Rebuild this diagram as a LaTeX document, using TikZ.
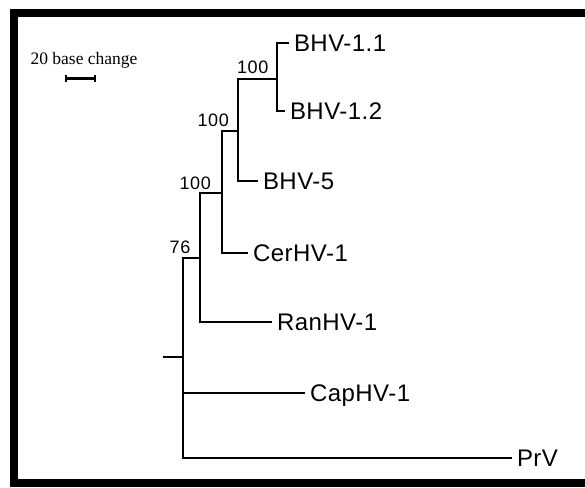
\documentclass[tikz,border=0pt]{standalone}
\usepackage{fontspec}
\setmainfont{Liberation Serif}
\newfontfamily\labfont[LetterSpace=2]{Liberation Sans}
\newfontfamily\numfont[LetterSpace=3]{Liberation Sans}
\begin{document}
\begin{tikzpicture}[x=1pt,y=-1pt,
  branch/.style={line width=1.5pt,black},
  leaf/.style={anchor=west,inner sep=0pt,outer xsep=5pt,text height=17pt,text depth=0pt,
    font=\labfont\fontsize{24}{24}\selectfont},
  support/.style={anchor=base east,inner sep=0pt,font=\numfont\fontsize{18}{18}\selectfont}]
\useasboundingbox (0,0) rectangle (585,487);
\fill[white] (0,0) rectangle (585,487);
% frame (left, top and bottom bands)
\fill[black] (10,9.5) rectangle (585,17);
\fill[black] (10,9.5) rectangle (17.5,487);
\fill[black] (10,479) rectangle (585,487);
% scale bar
\node[anchor=base,inner sep=0pt,font=\fontsize{17.5}{17.5}\selectfont] (scaletext) at (84,64) {20 base change};
\coordinate (sbL) at (66,78);
\coordinate (sbR) at (95,78);
\draw[line width=3pt] (sbL) -- (sbR);
\draw[line width=1.5pt] ([yshift=-3.5pt]sbL) -- ([yshift=3.5pt]sbL);
\draw[line width=1.5pt] ([yshift=-3.5pt]sbR) -- ([yshift=3.5pt]sbR);
% internal nodes
\coordinate (n1) at (277,79);
\coordinate (n2) at (238,131);
\coordinate (n3) at (222,193);
\coordinate (n4) at (200,258);
\coordinate (root) at (183,357);
\coordinate (stub) at (163,357);
% leaves
\node[leaf] (b11) at (289,43) {BHV-1.1};
\node[leaf] (b12) at (285,111) {BHV-1.2};
\node[leaf] (b5) at (258,181) {BHV-5};
\node[leaf] (cer) at (248,253) {CerHV-1};
\node[leaf] (ran) at (272,322) {RanHV-1};
\node[leaf] (cap) at (305,393) {CapHV-1};
\node[leaf] (prv) at (512,458) {PrV};
% branches
\draw[branch] (n1) |- (b11.west);
\draw[branch] (n1) |- (b12.west);
\draw[branch] (n2) |- (n1);
\draw[branch] (n2) |- (b5.west);
\draw[branch] (n3) |- (n2);
\draw[branch] (n3) |- (cer.west);
\draw[branch] (n4) |- (n3);
\draw[branch] (n4) |- (ran.west);
\draw[branch] (root) |- (n4);
\draw[branch] (root) |- (cap.west);
\draw[branch] (root) |- (prv.west);
\draw[branch] (stub) -- (root);
% support values
\node[support] (s1) at (268.5,73) {100};
\node[support] (s2) at (229,126) {100};
\node[support] (s3) at (211,189) {100};
\node[support] (s4) at (190.5,253) {76};
\end{tikzpicture}
\end{document}
